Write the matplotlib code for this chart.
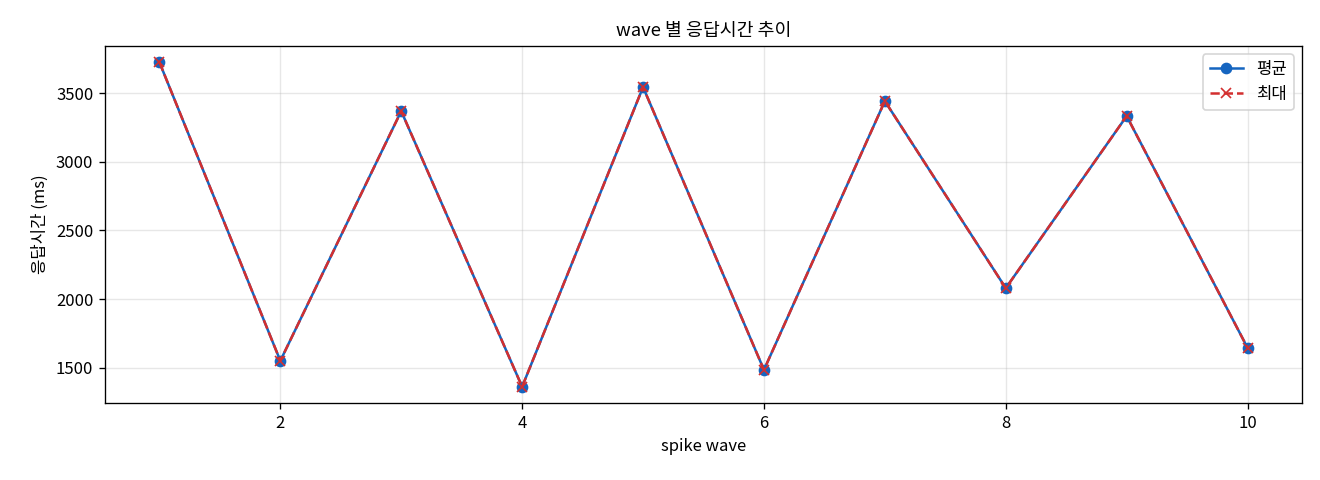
import matplotlib
matplotlib.use("Agg")
import matplotlib.pyplot as plt

plt.rcParams['font.family'] = ['Noto Sans CJK KR', 'DejaVu Sans']
plt.rcParams['axes.unicode_minus'] = False

waves = [1, 2, 3, 4, 5, 6, 7, 8, 9, 10]
avg_ms = [3725, 1551, 3369, 1362, 3544, 1485, 3442, 2080, 3333, 1645]
max_ms = [3725, 1551, 3369, 1362, 3544, 1485, 3442, 2080, 3333, 1645]

title = "wave 별 응답시간 추이"
xlabel = "spike wave"
ylabel = "응답시간 (ms)"
labels = ["평균", "최대"]

fig, ax = plt.subplots(figsize=(11, 4), dpi=120)
ax.plot(waves, avg_ms, '-o', color='#1565C0', linewidth=1.5, markersize=6, label=labels[0])
ax.plot(waves, max_ms, '--x', color='#D32F2F', linewidth=1.5, markersize=6, label=labels[1])
ax.set_title(title, fontsize=11)
ax.set_xlabel(xlabel, fontsize=10)
ax.set_ylabel(ylabel, fontsize=10)
ax.grid(True, alpha=0.3)
ax.legend(loc='upper right', fontsize=10)
fig.subplots_adjust(left=105/1320, right=1302/1320, top=1-46/480, bottom=1-403/480)
fig.savefig("out.png", dpi=120)
